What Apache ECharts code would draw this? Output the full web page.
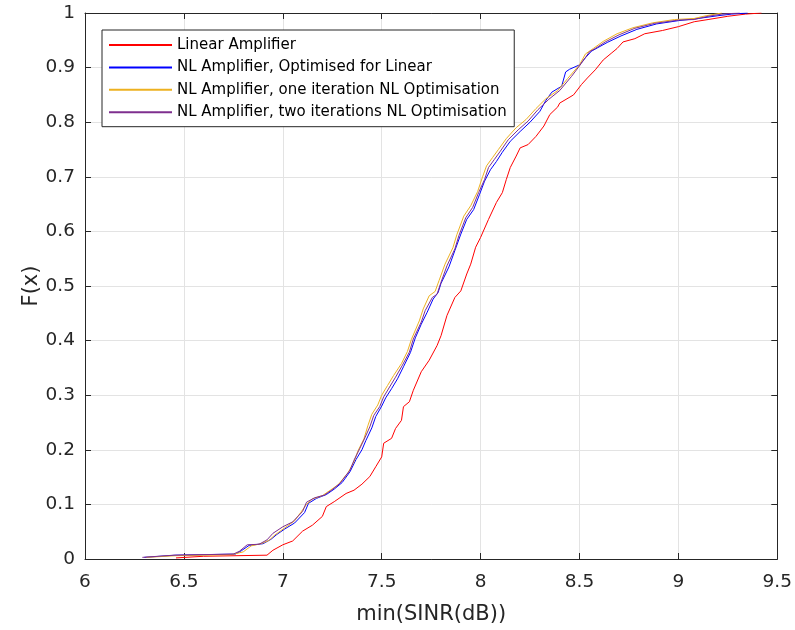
<!DOCTYPE html>
<html>
<head>
<meta charset="utf-8">
<script src="https://cdn.jsdelivr.net/npm/echarts@6/dist/echarts.min.js"></script>
<style>
  html, body { margin: 0; padding: 0; background: #ffffff; }
  #chart { width: 795px; height: 630px; }
</style>
</head>
<body>
<div id="chart"></div>
<script>
// Empirical CDFs of min(SINR) in dB for each amplifier / optimisation case
const seriesNames = [
  'Linear Amplifier',
  'NL Amplifier, Optimised for Linear',
  'NL Amplifier, one iteration NL Optimisation',
  'NL Amplifier, two iterations NL Optimisation'
];
const seriesColors = ['#ff0000', '#0000ff', '#edb120', '#7e2f8e'];

const linearX = [6.46, 6.60, 6.92, 6.95, 7.00, 7.05, 7.10, 7.15, 7.20, 7.22, 7.26, 7.32, 7.36, 7.40, 7.44, 7.47, 7.50, 7.51, 7.55, 7.57, 7.60, 7.61, 7.64, 7.66, 7.70, 7.74, 7.78, 7.80, 7.83, 7.87, 7.90, 7.93, 7.95, 7.975, 8.00, 8.04, 8.08, 8.11, 8.13, 8.15, 8.18, 8.20, 8.24, 8.28, 8.32, 8.35, 8.39, 8.40, 8.47, 8.51, 8.54, 8.58, 8.62, 8.66, 8.69, 8.72, 8.78, 8.83, 8.92, 9.00, 9.08, 9.15, 9.25, 9.34, 9.42];
const linearF = [0.002, 0.005, 0.007, 0.016, 0.026, 0.033, 0.051, 0.062, 0.078, 0.096, 0.105, 0.120, 0.126, 0.137, 0.151, 0.169, 0.187, 0.212, 0.221, 0.239, 0.254, 0.279, 0.288, 0.309, 0.343, 0.364, 0.391, 0.409, 0.446, 0.479, 0.491, 0.522, 0.540, 0.571, 0.589, 0.622, 0.653, 0.671, 0.695, 0.717, 0.738, 0.753, 0.759, 0.774, 0.793, 0.814, 0.828, 0.835, 0.850, 0.869, 0.881, 0.896, 0.914, 0.926, 0.935, 0.947, 0.953, 0.962, 0.968, 0.975, 0.984, 0.988, 0.994, 0.998, 1.000];

const optLinX = [6.30, 6.46, 6.76, 6.79, 6.83, 6.90, 6.94, 6.97, 7.01, 7.06, 7.11, 7.13, 7.17, 7.22, 7.26, 7.30, 7.34, 7.37, 7.40, 7.42, 7.45, 7.47, 7.50, 7.52, 7.55, 7.58, 7.61, 7.645, 7.67, 7.70, 7.73, 7.76, 7.785, 7.80, 7.84, 7.87, 7.90, 7.93, 7.965, 7.995, 8.02, 8.05, 8.08, 8.11, 8.15, 8.20, 8.25, 8.30, 8.33, 8.36, 8.41, 8.43, 8.45, 8.50, 8.53, 8.56, 8.59, 8.64, 8.71, 8.79, 8.89, 9.00, 9.10, 9.20, 9.27, 9.35];
const optLinF = [0.003, 0.007, 0.009, 0.015, 0.025, 0.028, 0.036, 0.045, 0.055, 0.066, 0.085, 0.102, 0.111, 0.118, 0.128, 0.140, 0.160, 0.182, 0.200, 0.217, 0.240, 0.261, 0.280, 0.295, 0.312, 0.330, 0.352, 0.378, 0.405, 0.430, 0.452, 0.476, 0.488, 0.505, 0.535, 0.565, 0.595, 0.622, 0.640, 0.668, 0.692, 0.713, 0.728, 0.745, 0.765, 0.783, 0.800, 0.820, 0.840, 0.855, 0.866, 0.892, 0.897, 0.905, 0.918, 0.930, 0.936, 0.946, 0.958, 0.970, 0.980, 0.986, 0.990, 0.995, 0.998, 1.000];

const oneIterX = [6.31, 6.46, 6.74, 6.80, 6.84, 6.89, 6.93, 6.96, 7.01, 7.06, 7.09, 7.12, 7.15, 7.20, 7.24, 7.28, 7.33, 7.36, 7.38, 7.41, 7.43, 7.45, 7.48, 7.50, 7.53, 7.56, 7.60, 7.63, 7.65, 7.69, 7.71, 7.74, 7.77, 7.79, 7.82, 7.86, 7.88, 7.915, 7.95, 7.985, 8.01, 8.03, 8.06, 8.09, 8.13, 8.18, 8.23, 8.28, 8.33, 8.39, 8.44, 8.50, 8.53, 8.57, 8.62, 8.69, 8.77, 8.87, 8.98, 9.08, 9.14, 9.22];
const oneIterF = [0.003, 0.006, 0.008, 0.013, 0.024, 0.028, 0.034, 0.044, 0.057, 0.070, 0.085, 0.100, 0.110, 0.116, 0.126, 0.136, 0.158, 0.178, 0.198, 0.220, 0.244, 0.265, 0.282, 0.300, 0.318, 0.336, 0.358, 0.380, 0.402, 0.436, 0.458, 0.482, 0.490, 0.510, 0.540, 0.570, 0.594, 0.628, 0.647, 0.673, 0.700, 0.720, 0.735, 0.750, 0.770, 0.790, 0.805, 0.825, 0.843, 0.858, 0.880, 0.905, 0.925, 0.935, 0.948, 0.962, 0.973, 0.982, 0.988, 0.990, 0.995, 1.000];

const twoIterX = [6.29, 6.45, 6.75, 6.78, 6.82, 6.88, 6.92, 6.95, 7.00, 7.05, 7.10, 7.12, 7.16, 7.21, 7.25, 7.29, 7.34, 7.36, 7.39, 7.41, 7.44, 7.46, 7.49, 7.51, 7.54, 7.57, 7.605, 7.64, 7.66, 7.70, 7.72, 7.756, 7.78, 7.80, 7.83, 7.87, 7.89, 7.925, 7.96, 7.99, 8.02, 8.04, 8.07, 8.10, 8.14, 8.19, 8.24, 8.29, 8.345, 8.40, 8.46, 8.51, 8.55, 8.58, 8.63, 8.70, 8.78, 8.88, 9.00, 9.08, 9.15, 9.22, 9.31];
const twoIterF = [0.003, 0.007, 0.009, 0.014, 0.026, 0.027, 0.035, 0.047, 0.059, 0.068, 0.087, 0.104, 0.112, 0.117, 0.127, 0.139, 0.163, 0.181, 0.203, 0.218, 0.242, 0.263, 0.279, 0.297, 0.315, 0.333, 0.355, 0.379, 0.403, 0.434, 0.455, 0.479, 0.485, 0.507, 0.537, 0.568, 0.592, 0.625, 0.644, 0.671, 0.695, 0.717, 0.732, 0.747, 0.768, 0.786, 0.802, 0.823, 0.842, 0.858, 0.884, 0.908, 0.929, 0.935, 0.947, 0.960, 0.972, 0.981, 0.987, 0.988, 0.994, 0.998, 1.000];

const xTicks = [6, 6.5, 7, 7.5, 8, 8.5, 9, 9.5];
const yTicks = [0, 0.1, 0.2, 0.3, 0.4, 0.5, 0.6, 0.7, 0.8, 0.9, 1];

const curves = [[linearX, linearF], [optLinX, optLinF], [oneIterX, oneIterF], [twoIterX, twoIterF]];

const axisColor = '#262626';
const gridColor = '#e3e3e3';
const font = 'DejaVu Sans, sans-serif';

function pairs(xs, fs) {
  return xs.map((x, i) => [x, fs[i]]);
}

const chart = echarts.init(document.getElementById('chart'), null, { renderer: 'canvas' });

const tickFmt = v => String(Math.round(v * 10) / 10);

const baseX = { type: 'value', min: xTicks[0], max: xTicks[xTicks.length - 1], interval: 0.5 };
const baseY = { type: 'value', min: yTicks[0], max: yTicks[yTicks.length - 1], interval: 0.1 };

chart.setOption({
  animation: false,
  backgroundColor: '#ffffff',
  textStyle: { fontFamily: font },
  grid: { left: 85, right: 15, top: 13, bottom: 69, containLabel: false },
  legend: {
    data: seriesNames,
    orient: 'vertical',
    left: 102,
    top: 30,
    icon: 'rect',
    itemWidth: 63,
    itemHeight: 2,
    itemGap: 7.4,
    padding: [7.5, 7.5, 7, 7],
    backgroundColor: '#ffffff',
    borderColor: axisColor,
    borderWidth: 1,
    textStyle: { fontSize: 15, color: '#000000', fontFamily: font }
  },
  xAxis: [
    Object.assign({}, baseX, {
      position: 'bottom',
      name: 'min(SINR(dB))',
      nameLocation: 'middle',
      nameGap: 45,
      nameMoveOverlap: false,
      nameTextStyle: { fontSize: 21, color: axisColor, fontFamily: font },
      axisLine: { onZero: false, lineStyle: { color: axisColor, width: 1 } },
      axisTick: { inside: true, length: 6, lineStyle: { color: axisColor } },
      axisLabel: { fontSize: 18.5, color: axisColor, margin: 14, formatter: tickFmt, fontFamily: font },
      splitLine: { show: true, lineStyle: { color: gridColor, width: 1 } }
    }),
    Object.assign({}, baseX, {
      position: 'top',
      axisLine: { onZero: false, lineStyle: { color: axisColor, width: 1 } },
      axisTick: { inside: true, length: 6, lineStyle: { color: axisColor } },
      axisLabel: { show: false },
      splitLine: { show: false }
    })
  ],
  yAxis: [
    Object.assign({}, baseY, {
      position: 'left',
      name: 'F(x)',
      nameLocation: 'middle',
      nameGap: 43,
      nameMoveOverlap: false,
      nameTextStyle: { fontSize: 21, color: axisColor, fontFamily: font },
      axisLine: { show: true, onZero: false, lineStyle: { color: axisColor, width: 1 } },
      axisTick: { show: true, inside: true, length: 6, lineStyle: { color: axisColor } },
      axisLabel: { fontSize: 18.5, color: axisColor, margin: 10, formatter: tickFmt, fontFamily: font },
      splitLine: { show: true, lineStyle: { color: gridColor, width: 1 } }
    }),
    Object.assign({}, baseY, {
      position: 'right',
      axisLine: { show: true, onZero: false, lineStyle: { color: axisColor, width: 1 } },
      axisTick: { show: true, inside: true, length: 6, lineStyle: { color: axisColor } },
      axisLabel: { show: false },
      splitLine: { show: false }
    })
  ],
  series: curves.map((c, i) => ({
    name: seriesNames[i],
    type: 'line',
    xAxisIndex: 0,
    yAxisIndex: 0,
    data: pairs(c[0], c[1]),
    symbol: 'none',
    showSymbol: false,
    color: seriesColors[i],
    itemStyle: { color: seriesColors[i] },
    lineStyle: { color: seriesColors[i], width: 1 },
    z: 2 + i
  }))
});
</script>
</body>
</html>
